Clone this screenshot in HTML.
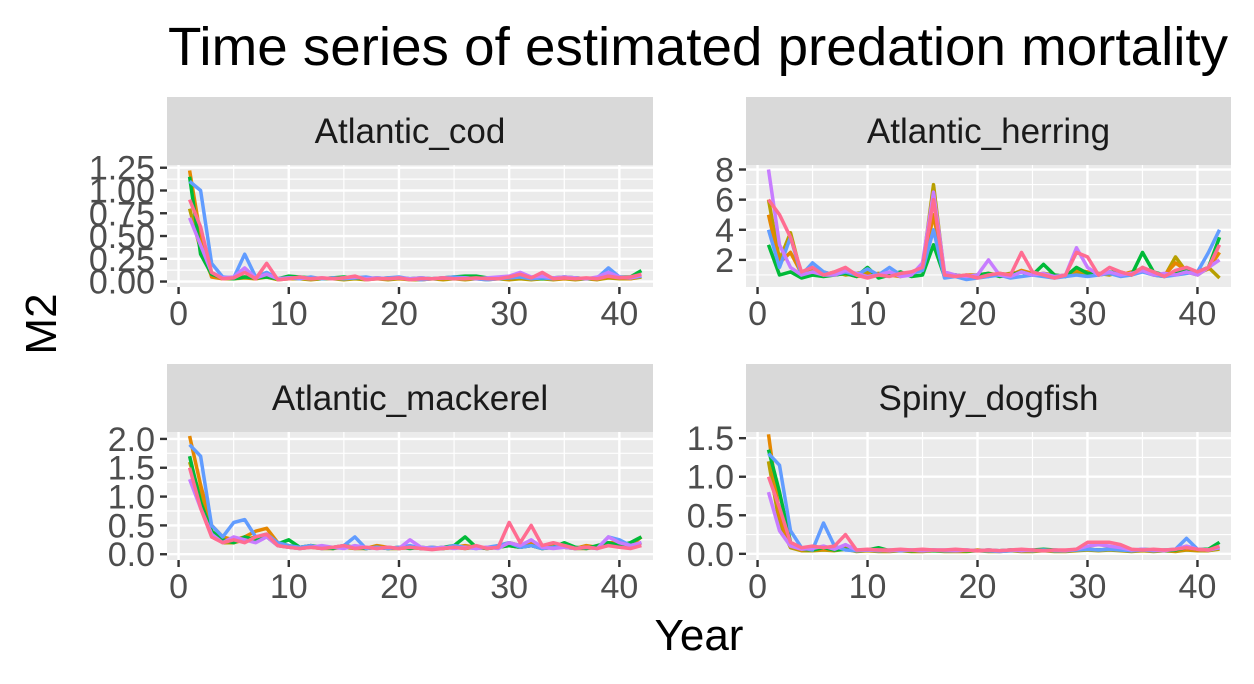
<!DOCTYPE html>
<html><head><meta charset="utf-8"><style>
body{margin:0;background:#fff;}
svg{display:block;font-family:"Liberation Sans",Arial,sans-serif;}
</style></head><body>
<svg id="chart" width="1254" height="684" viewBox="0 0 1254 684" xmlns="http://www.w3.org/2000/svg">
<rect width="1254" height="684" fill="#fff"/>
<text x="168" y="65" font-size="54" fill="#000" textLength="1060" lengthAdjust="spacingAndGlyphs">Time series of estimated predation mortality</text>
<text x="0" y="0" font-size="44" fill="#000" text-anchor="middle" transform="translate(56,324) rotate(-90)">M2</text>
<text x="699" y="650" font-size="44" fill="#000" text-anchor="middle">Year</text>
<g id="panels"></g>
</svg>
<script>
const years = Array.from({length:42},(_,i)=>i+1);
const facetNames = ["Atlantic_cod","Atlantic_herring","Atlantic_mackerel","Spiny_dogfish"];
const seriesNames = ["olive","orange","green","blue","purple","pink"];
const seriesColors = ["#B79F00","#E58700","#00BA38","#619CFF","#C77CFF","#FF6C91"];
const xTicks = [0,10,20,30,40];
const codTicks = [0,0.25,0.5,0.75,1.0,1.25];
const codTickLabels = ["0.00","0.25","0.50","0.75","1.00","1.25"];
const herTicks = [2,4,6,8];
const herTickLabels = ["2","4","6","8"];
const macTicks = [0,0.5,1.0,1.5,2.0];
const macTickLabels = ["0.0","0.5","1.0","1.5","2.0"];
const dogTicks = [0,0.5,1.0,1.5];
const dogTickLabels = ["0.0","0.5","1.0","1.5"];

const codOlive=[0.8,0.35,0.06,0.03,0.03,0.04,0.03,0.05,0.02,0.03,0.03,0.02,0.03,0.03,0.02,0.03,0.02,0.03,0.02,0.03,0.02,0.02,0.03,0.02,0.03,0.02,0.03,0.02,0.03,0.02,0.03,0.02,0.03,0.02,0.03,0.02,0.03,0.02,0.04,0.03,0.03,0.05];
const codOrange=[1.22,0.5,0.05,0.03,0.04,0.05,0.03,0.06,0.03,0.03,0.04,0.03,0.03,0.04,0.03,0.04,0.03,0.03,0.04,0.03,0.03,0.02,0.03,0.03,0.04,0.03,0.03,0.03,0.04,0.03,0.05,0.03,0.04,0.03,0.03,0.04,0.03,0.03,0.05,0.04,0.03,0.06];
const codGreen=[1.15,0.3,0.08,0.04,0.03,0.05,0.04,0.05,0.03,0.06,0.05,0.04,0.03,0.04,0.05,0.04,0.03,0.04,0.03,0.04,0.03,0.04,0.03,0.04,0.05,0.06,0.06,0.04,0.03,0.04,0.05,0.04,0.03,0.04,0.05,0.04,0.03,0.04,0.06,0.05,0.05,0.12];
const codBlue=[1.1,1.0,0.2,0.05,0.04,0.3,0.05,0.1,0.03,0.04,0.03,0.05,0.03,0.04,0.03,0.04,0.05,0.03,0.04,0.05,0.03,0.02,0.03,0.04,0.05,0.04,0.03,0.02,0.03,0.04,0.05,0.03,0.04,0.03,0.05,0.04,0.03,0.04,0.15,0.05,0.04,0.06];
const codPurple=[0.7,0.4,0.1,0.04,0.05,0.15,0.04,0.08,0.03,0.04,0.04,0.03,0.04,0.03,0.04,0.05,0.03,0.04,0.03,0.04,0.03,0.04,0.03,0.04,0.03,0.04,0.03,0.04,0.05,0.06,0.1,0.05,0.06,0.04,0.05,0.04,0.03,0.05,0.1,0.05,0.04,0.07];
const codPink=[0.9,0.6,0.1,0.03,0.04,0.1,0.03,0.2,0.02,0.03,0.05,0.03,0.04,0.03,0.04,0.06,0.02,0.03,0.03,0.04,0.02,0.03,0.03,0.04,0.03,0.03,0.04,0.03,0.03,0.05,0.08,0.04,0.1,0.03,0.04,0.03,0.04,0.03,0.06,0.04,0.05,0.08];

const herOlive=[6,2,3.8,1.0,1.3,1.0,1.2,1.0,1.1,1.2,0.9,1.0,1.1,1.0,1.5,7,1.0,1.0,0.9,1.0,1.1,1.0,1.1,1.2,1.0,1.1,1.0,0.9,1.2,1.0,1.1,1.0,1.2,1.0,1.5,1.0,0.9,2.2,1.2,1.0,1.5,0.8];
const herOrange=[5,1.8,2.5,1.1,1.0,1.2,1.0,1.1,0.9,1.0,1.1,1.0,0.9,1.2,1.3,5,1.1,0.9,1.0,1.0,0.9,1.1,1.0,1.3,1.1,1.0,0.9,1.0,1.3,1.2,1.0,1.1,1.0,1.2,1.4,1.1,1.0,1.8,1.3,1.1,1.4,2.5];
const herGreen=[3,1.0,1.2,0.8,1.0,0.9,1.0,1.1,0.9,1.5,0.8,1.0,1.2,0.9,1.0,3,0.9,1.0,0.9,1.0,1.1,0.9,1.0,1.2,1.0,1.7,1.0,0.9,1.5,1.1,1.0,1.2,1.1,1.0,2.5,1.2,1.0,1.1,1.3,1.2,1.5,3.5];
const herBlue=[4,1.5,3.5,1.0,1.8,1.2,1.0,1.2,1.0,1.4,1.0,1.5,1.0,1.1,1.3,4,0.8,0.9,0.7,0.8,0.9,1.0,0.8,0.9,1.0,0.9,0.8,0.9,1.0,0.9,1.0,1.1,0.9,1.0,1.2,1.0,0.9,1.0,1.1,1.2,2.5,4];
const herPurple=[8,3,1.5,1.0,1.2,1.0,1.0,1.3,1.1,0.9,1.0,1.2,0.9,1.0,1.8,6.5,1.2,1.0,0.9,1.0,2.0,1.0,0.9,1.2,1.0,1.1,0.9,1.0,2.8,1.5,1.0,1.2,1.0,1.1,1.3,1.0,1.1,1.0,1.2,1.0,1.5,2.0];
const herPink=[6,5,3.5,1.2,1.5,1.0,1.2,1.5,1.0,0.8,1.0,0.9,1.1,1.2,1.5,6,1.0,0.9,1.0,0.8,1.0,1.1,1.0,2.5,1.2,1.0,0.8,1.0,2.5,2.2,1.0,1.5,1.2,1.0,1.5,1.2,0.9,1.3,1.5,1.2,1.5,3.0];

const macOlive=[1.6,1.0,0.4,0.2,0.2,0.25,0.3,0.3,0.15,0.12,0.1,0.12,0.1,0.1,0.12,0.1,0.1,0.12,0.1,0.1,0.12,0.1,0.1,0.1,0.12,0.1,0.12,0.1,0.12,0.15,0.12,0.15,0.1,0.12,0.12,0.1,0.1,0.12,0.15,0.15,0.12,0.2];
const macOrange=[2.05,1.2,0.5,0.3,0.25,0.3,0.4,0.45,0.2,0.15,0.12,0.15,0.12,0.12,0.15,0.12,0.1,0.15,0.12,0.1,0.12,0.1,0.12,0.1,0.12,0.15,0.12,0.1,0.15,0.2,0.15,0.2,0.12,0.15,0.12,0.1,0.15,0.12,0.2,0.2,0.15,0.3];
const macGreen=[1.7,0.9,0.4,0.25,0.2,0.3,0.25,0.3,0.18,0.25,0.12,0.15,0.12,0.1,0.15,0.12,0.1,0.12,0.1,0.12,0.1,0.12,0.1,0.12,0.15,0.3,0.12,0.1,0.12,0.15,0.12,0.15,0.1,0.12,0.2,0.12,0.1,0.15,0.2,0.15,0.2,0.3];
const macBlue=[1.9,1.7,0.5,0.3,0.55,0.6,0.3,0.35,0.2,0.15,0.12,0.15,0.1,0.12,0.15,0.3,0.1,0.12,0.1,0.12,0.15,0.1,0.12,0.1,0.15,0.12,0.1,0.12,0.15,0.2,0.12,0.15,0.1,0.12,0.15,0.1,0.12,0.1,0.3,0.25,0.15,0.2];
const macPurple=[1.3,0.8,0.35,0.2,0.3,0.25,0.2,0.3,0.15,0.12,0.1,0.12,0.15,0.12,0.1,0.15,0.12,0.1,0.12,0.1,0.25,0.12,0.1,0.12,0.1,0.12,0.1,0.12,0.1,0.2,0.15,0.25,0.12,0.1,0.12,0.1,0.12,0.1,0.3,0.2,0.15,0.2];
const macPink=[1.5,0.8,0.3,0.2,0.25,0.2,0.3,0.35,0.15,0.12,0.1,0.12,0.1,0.12,0.15,0.1,0.12,0.1,0.12,0.1,0.12,0.1,0.08,0.1,0.12,0.1,0.15,0.1,0.12,0.55,0.2,0.5,0.15,0.2,0.15,0.1,0.12,0.1,0.15,0.12,0.1,0.15];

const dogOlive=[1.2,0.4,0.08,0.04,0.04,0.05,0.04,0.06,0.03,0.04,0.03,0.03,0.04,0.03,0.03,0.04,0.03,0.03,0.03,0.04,0.03,0.03,0.04,0.03,0.03,0.04,0.03,0.03,0.04,0.05,0.04,0.05,0.04,0.03,0.04,0.03,0.04,0.03,0.05,0.04,0.04,0.06];
const dogOrange=[1.55,0.5,0.1,0.05,0.05,0.06,0.05,0.08,0.04,0.05,0.04,0.04,0.05,0.04,0.04,0.05,0.04,0.04,0.04,0.05,0.04,0.04,0.05,0.04,0.04,0.05,0.04,0.04,0.05,0.06,0.05,0.06,0.05,0.04,0.05,0.04,0.05,0.04,0.06,0.05,0.05,0.08];
const dogGreen=[1.35,0.8,0.15,0.06,0.05,0.08,0.05,0.06,0.04,0.05,0.08,0.04,0.05,0.04,0.05,0.04,0.04,0.05,0.04,0.04,0.05,0.04,0.05,0.04,0.05,0.06,0.05,0.04,0.05,0.06,0.05,0.06,0.05,0.04,0.06,0.05,0.04,0.05,0.08,0.06,0.06,0.15];
const dogBlue=[1.3,1.15,0.3,0.08,0.05,0.4,0.1,0.05,0.04,0.05,0.04,0.05,0.04,0.05,0.04,0.05,0.04,0.04,0.05,0.04,0.04,0.03,0.04,0.05,0.04,0.05,0.04,0.04,0.05,0.06,0.05,0.06,0.05,0.04,0.05,0.04,0.05,0.06,0.2,0.06,0.05,0.08];
const dogPurple=[0.8,0.3,0.1,0.06,0.07,0.1,0.06,0.12,0.05,0.05,0.05,0.04,0.05,0.05,0.04,0.05,0.05,0.04,0.05,0.04,0.05,0.04,0.05,0.04,0.05,0.04,0.05,0.04,0.06,0.1,0.12,0.1,0.08,0.05,0.06,0.05,0.04,0.06,0.1,0.06,0.05,0.08];
const dogPink=[1.0,0.6,0.15,0.08,0.1,0.08,0.1,0.25,0.05,0.06,0.05,0.05,0.06,0.05,0.06,0.05,0.05,0.06,0.05,0.04,0.05,0.04,0.05,0.06,0.05,0.04,0.05,0.05,0.06,0.15,0.15,0.15,0.12,0.06,0.05,0.06,0.05,0.06,0.08,0.06,0.05,0.1];

const facetSeries=[[codOlive,codOrange,codGreen,codBlue,codPurple,codPink],[herOlive,herOrange,herGreen,herBlue,herPurple,herPink],[macOlive,macOrange,macGreen,macBlue,macPurple,macPink],[dogOlive,dogOrange,dogGreen,dogBlue,dogPurple,dogPink]];
const facetTicks=[codTicks,herTicks,macTicks,dogTicks];
const facetTickLabels=[codTickLabels,herTickLabels,macTickLabels,dogTickLabels];
const facetYDomain=[[-0.06,1.28],[0.2,8.3],[-0.1,2.12],[-0.08,1.58]];

const layout=[{x:167,y:165,w:486,h:122,sy:97},{x:746,y:165,w:485,h:122,sy:97},{x:167,y:432,w:486,h:128,sy:364},{x:746,y:432,w:485,h:128,sy:364}];
const NS="http://www.w3.org/2000/svg";
const root=document.getElementById("panels");
function mk(tag,attrs,parent){const e=document.createElementNS(NS,tag);for(const k in attrs)e.setAttribute(k,attrs[k]);parent.appendChild(e);return e;}

facetNames.forEach((name,pi)=>{
  const L=layout[pi];
  const xs=v=>L.x+(v+1.05)/44.1*L.w;
  const [y0,y1]=facetYDomain[pi];
  const ys=v=>L.y+L.h-(v-y0)/(y1-y0)*L.h;
  const g=mk("g",{},root);
  
  
  const strip=mk("rect",{x:L.x,y:L.sy,width:L.w,height:L.y-L.sy,fill:"#D9D9D9"},g);
  
  
  const st=mk("text",{x:L.x+L.w/2,y:(L.sy+L.y)/2+12,"font-size":35,fill:"#1A1A1A","text-anchor":"middle"},g);
  st.textContent=name;
  
  
  const bg=mk("rect",{x:L.x,y:L.y,width:L.w,height:L.h,fill:"#EBEBEB"},g);
  
  
  const ticks=facetTicks[pi],labs=facetTickLabels[pi];
  for(let i=0;i<ticks.length-1;i++){const m=(ticks[i]+ticks[i+1])/2;mk("line",{x1:L.x,x2:L.x+L.w,y1:ys(m),y2:ys(m),stroke:"#fff","stroke-width":1.2},g);}
  if(pi===1){mk("line",{x1:L.x,x2:L.x+L.w,y1:ys(1),y2:ys(1),stroke:"#fff","stroke-width":1.2},g);}
  for(let i=0;i<xTicks.length-1;i++){const m=(xTicks[i]+xTicks[i+1])/2;mk("line",{x1:xs(m),x2:xs(m),y1:L.y,y2:L.y+L.h,stroke:"#fff","stroke-width":1.2},g);}
  ticks.forEach((t,i)=>{
    mk("line",{x1:L.x,x2:L.x+L.w,y1:ys(t),y2:ys(t),stroke:"#fff","stroke-width":2.4},g);
    mk("line",{x1:L.x-7,x2:L.x,y1:ys(t),y2:ys(t),stroke:"#333","stroke-width":2.4},g);
    const tl=mk("text",{x:L.x-12,y:ys(t)+12,"font-size":34,fill:"#4D4D4D","text-anchor":"end"},g);
    tl.textContent=labs[i];
    
    
  });
  xTicks.forEach(t=>{
    mk("line",{x1:xs(t),x2:xs(t),y1:L.y,y2:L.y+L.h,stroke:"#fff","stroke-width":2.4},g);
    mk("line",{x1:xs(t),x2:xs(t),y1:L.y+L.h,y2:L.y+L.h+7,stroke:"#333","stroke-width":2.4},g);
    const tl=mk("text",{x:xs(t),y:L.y+L.h+38,"font-size":34,fill:"#4D4D4D","text-anchor":"middle"},g);
    tl.textContent=String(t);
    
    
  });
  facetSeries[pi].forEach((vals,si)=>{
    const d=vals.map((v,i)=>(i?"L":"M")+xs(years[i]).toFixed(1)+","+ys(v).toFixed(1)).join("");
    const p=mk("path",{d:d,fill:"none",stroke:seriesColors[si],"stroke-width":3.5,"stroke-linejoin":"round"},g);
    
    
  });
});
</script>
</body></html>
